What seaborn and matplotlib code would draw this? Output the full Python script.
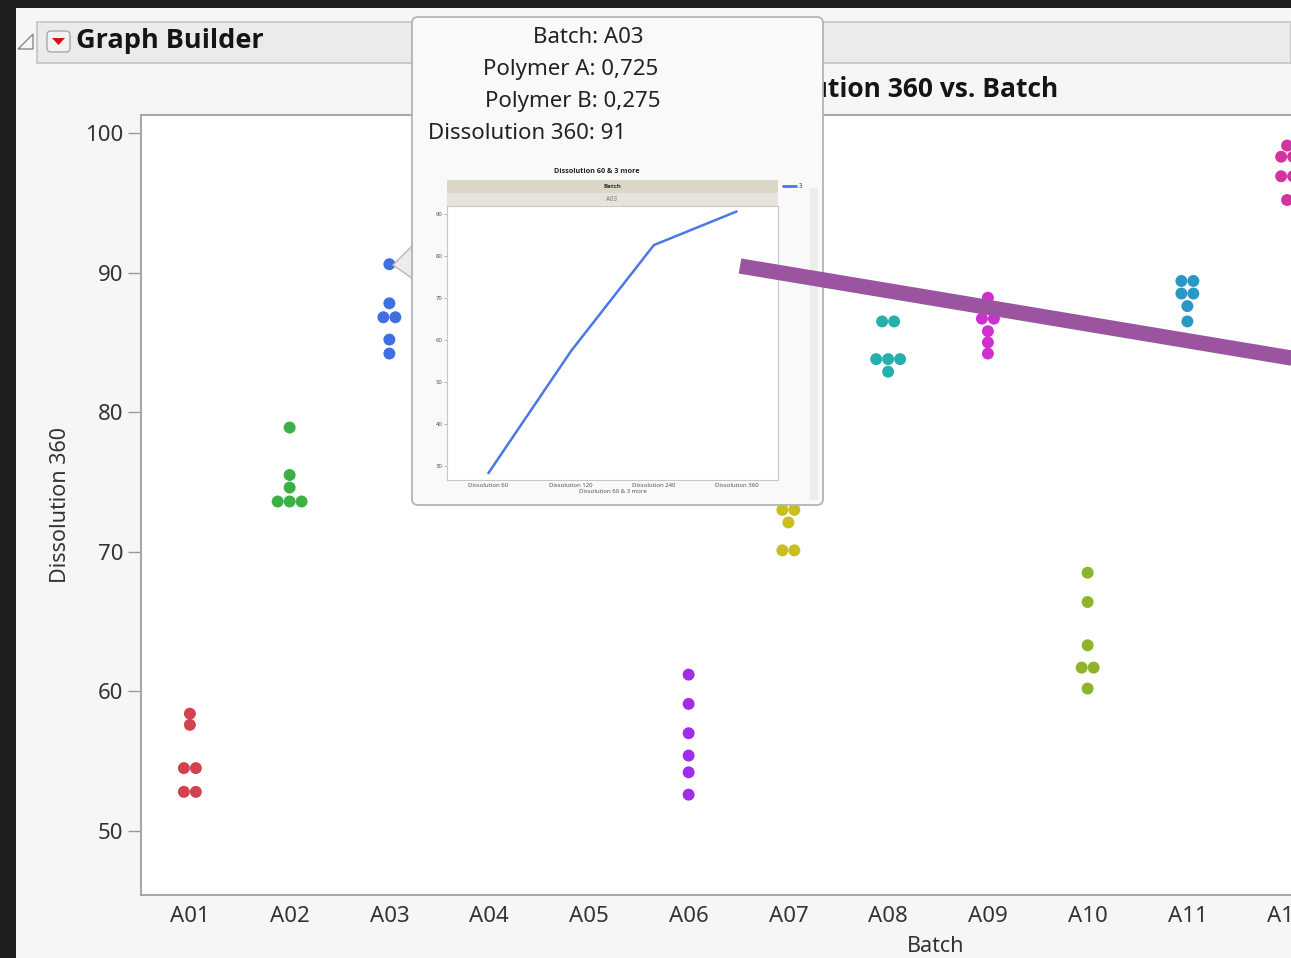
import numpy as np
import pandas as pd
import matplotlib.pyplot as plt
import matplotlib.patches as mpatches
import seaborn as sns

# ---- data ----
batches = ["A01", "A02", "A03", "A04", "A05", "A06",
           "A07", "A08", "A09", "A10", "A11", "A12"]
a01 = [58.4, 57.6, 54.5, 54.5, 52.8, 52.8]
a02 = [78.9, 75.5, 74.6, 73.6, 73.6, 73.6]
a03 = [90.6, 87.8, 86.8, 86.8, 85.2, 84.2]
a04 = []  # hidden behind the hover tip
a05 = []
a06 = [61.2, 59.1, 57.0, 55.4, 54.2, 52.6]
a07 = [73.0, 73.0, 72.1, 70.1, 70.1]
a08 = [86.5, 86.5, 83.8, 83.8, 83.8, 82.9]
a09 = [88.2, 86.7, 86.7, 85.8, 85.0, 84.2]
a10 = [68.5, 66.4, 63.3, 61.7, 61.7, 60.2]
a11 = [89.4, 89.4, 88.5, 88.5, 87.6, 86.5]
a12 = [99.1, 98.3, 98.3, 96.9, 96.9, 95.2]
batch_values = [a01, a02, a03, a04, a05, a06, a07, a08, a09, a10, a11, a12]

batch_colors = ["#d3434f", "#3cb043", "#3f6fe0", "#e08a1f", "#3a3aa8", "#a22de8",
                "#c9bd1f", "#25b0ae", "#cf2fcf", "#8db42a", "#2a98c4", "#d4349e"]

profile_cols = ["Dissolution 60", "Dissolution 120", "Dissolution 240", "Dissolution 360"]
profile_a03 = [28.3, 57.4, 82.6, 90.6]
tip_polymer_a = "0,725"
tip_polymer_b = "0,275"

W, H = 1291, 958

sns.set_style("white")
plt.rcParams["font.family"] = ["Noto Sans", "DejaVu Sans"]
BOLD = ["Open Sans", "DejaVu Sans"]

fig = plt.figure(figsize=(W / 100, H / 100), dpi=100, facecolor="#1e1e1e")


def px_axes(x0, y0, x1, y1):
    return fig.add_axes([x0 / W, 1 - y1 / H, (x1 - x0) / W, (y1 - y0) / H])


def overlay(z):
    o = fig.add_axes([0, 0, 1, 1])
    o.set_xlim(0, W)
    o.set_ylim(H, 0)
    o.axis("off")
    o.patch.set_alpha(0)
    o.set_zorder(z)
    return o


# ---- window background + header ----
bg = overlay(0)
bg.add_patch(mpatches.Rectangle((16, 8), W - 16, H - 8, color="#f6f6f6", lw=0))
bg.add_patch(mpatches.Rectangle((37, 22), W - 37, 41, facecolor="#ebebeb",
                                edgecolor="#c4c4c4", lw=1.2))
bg.add_patch(mpatches.Polygon([(18, 49), (33, 49), (33, 34)], closed=True,
                              facecolor="none", edgecolor="#8a8a8a", lw=1))
bg.add_patch(mpatches.FancyBboxPatch((47, 31), 23, 21, boxstyle="round,pad=0,rounding_size=4",
                                     facecolor="#f2f2f2", edgecolor="#a8a8a8", lw=1))
bg.add_patch(mpatches.Polygon([(52, 38), (65, 38), (58.5, 45)], closed=True,
                              color="#d11414", lw=0))
bg.text(76, 41, "Graph Builder", fontsize=19.5, fontweight="bold", family=BOLD,
        color="#151515", ha="left", va="center")
bg.text(1058, 89, "Dissolution 360 vs. Batch", fontsize=19, fontweight="bold",
        family=BOLD, color="#151515", ha="right", va="center")

# ---- main chart ----
rows = []
for b, vals in zip(batches, batch_values):
    i = batches.index(b)
    for v in sorted(set(vals), reverse=True):
        n = vals.count(v)
        for k in range(n):
            rows.append({"Batch": b, "Dissolution 360": v,
                         "pos": i + (k - (n - 1) / 2) * 0.12})
df = pd.DataFrame(rows)

ax = px_axes(141, 115, 1337, 895)
ax.set_zorder(1)
ax.set_facecolor("white")
sns.scatterplot(data=df, x="pos", y="Dissolution 360", hue="Batch",
                palette=dict(zip(batches, batch_colors)), s=74, linewidth=0,
                legend=False, ax=ax)
ax.set_xlim(-0.49, 11.5)
ax.set_ylim(45.41, 101.29)
ax.set_xticks(range(len(batches)))
ax.set_xticklabels(batches)
ax.set_yticks([50, 60, 70, 80, 90, 100])
ax.tick_params(axis="y", left=True, length=9.4, width=1, color="#9a9a9a", pad=3.5,
               labelsize=16, labelcolor="#333333")
ax.tick_params(axis="x", bottom=False, length=0, pad=8, labelsize=16, labelcolor="#333333")
for sp in ax.spines.values():
    sp.set_color("#a8a8a8")
    sp.set_linewidth(1.5)
ax.set_xlabel("Batch", fontsize=15.5, color="#333333")
ax.set_ylabel("Dissolution 360", fontsize=15.5, color="#333333")
ax.xaxis.set_label_coords((936 - 141) / 1196, (895 - 936) / 780)
ax.yaxis.set_label_coords((71 - 141) / 1196, 0.5)

# ---- hover tip ----
tip = overlay(2)
tip.add_patch(mpatches.Polygon([(393, 265), (413, 245), (413, 279)], closed=True,
                               facecolor="#ececec", edgecolor="#b8b8b8", lw=1))
tip.add_patch(mpatches.FancyBboxPatch((412, 17), 411, 488,
                                      boxstyle="round,pad=0,rounding_size=6",
                                      facecolor="#f9f9f9", edgecolor="#b4b4b4", lw=1.3))
tip_lines = [(533, 37, "Batch: " + batches[2]),
             (483, 69, "Polymer A: " + tip_polymer_a),
             (485, 101, "Polymer B: " + tip_polymer_b),
             (428, 133, "Dissolution 360: %d" % round(a03[0]))]
for x, y, s in tip_lines:
    tip.text(x, y, s, fontsize=16, color="#222222", ha="left", va="center")
tip.text(597, 171, "Dissolution 60 & 3 more", fontsize=5.2, fontweight="bold",
         family=BOLD, color="#222222", ha="center", va="center")
tip.add_patch(mpatches.Rectangle((447, 180), 331, 13, color="#dad7c7", lw=0))
tip.add_patch(mpatches.Rectangle((447, 193), 331, 13, color="#e6e4da", lw=0))
tip.text(612, 186.5, "Batch", fontsize=4.5, fontweight="bold", family=BOLD,
         color="#333333", ha="center", va="center")
tip.text(612, 199.5, batches[2], fontsize=4.5, color="#777777", ha="center", va="center")
tip.plot([783, 796], [186, 186], color="#4a78e6", lw=2)
tip.text(799, 186, "3", fontsize=4.5, color="#444444", ha="left", va="center")
tip.add_patch(mpatches.Rectangle((810, 188), 8, 312, color="#ececec", lw=0))

mini = px_axes(447, 206, 778, 480)
mini.set_zorder(3)
mini.set_facecolor("white")
sns.lineplot(x=np.arange(len(profile_cols)), y=profile_a03, color="#4a78e6",
             linewidth=1.8, ax=mini)
mini.set_xlim(-0.5, 3.5)
mini.set_ylim(26.67, 91.9)
mini.set_xticks(np.arange(len(profile_cols)))
mini.set_xticklabels(profile_cols)
mini.set_yticks([30, 40, 50, 60, 70, 80, 90])
mini.tick_params(axis="y", left=True, length=2, width=0.5, color="#999999", pad=1,
                 labelsize=4.3, labelcolor="#555555")
mini.tick_params(axis="x", length=0, pad=2, labelsize=4.3, labelcolor="#555555")
for sp in mini.spines.values():
    sp.set_color("#c8c8c8")
    sp.set_linewidth(0.8)
mini.set_xlabel("Dissolution 60 & 3 more", fontsize=4.3, color="#555555", labelpad=1)
mini.set_ylabel("")

# ---- purple annotation stroke ----
mark = overlay(4)
mark.plot([740, 1300], [266, 359.5], color="#9b55a0", lw=11, solid_capstyle="butt")

fig.savefig("out.png", dpi=100, facecolor=fig.get_facecolor())
